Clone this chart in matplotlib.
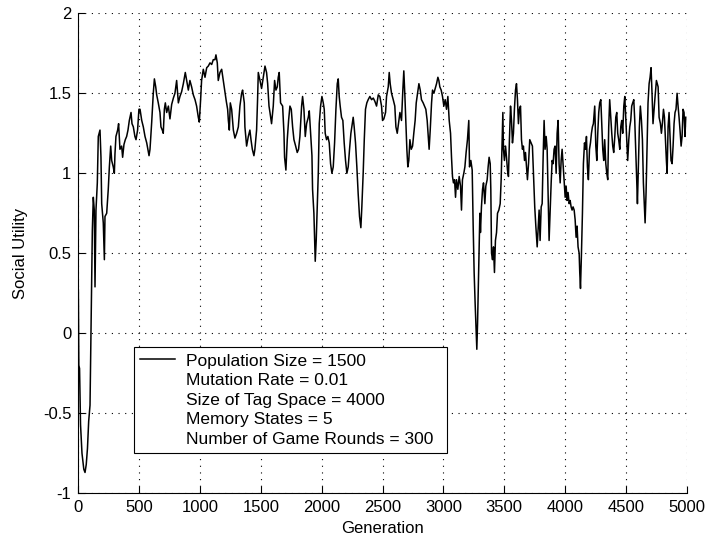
import matplotlib
matplotlib.use("Agg")
import matplotlib.pyplot as plt
from matplotlib.lines import Line2D

# social utility of the population, sampled along the run
generation = [
    0, 4, 10, 18, 30, 45, 55, 65, 75, 85,
    96, 104, 115, 123, 131, 137, 145, 156, 164, 178,
    186, 192, 205, 214, 219, 233, 246, 255, 266, 274,
    287, 296, 301, 309, 323, 331, 342, 356, 364, 375,
    386, 397, 408, 419, 433, 441, 452, 465, 474, 487,
    498,
    507, 521, 534, 548, 562, 581, 589, 603, 616, 625,
    636, 644, 657, 671, 679, 690, 698, 707, 715, 726,
    740, 753, 767, 781, 794, 808, 822, 835, 849, 863,
    879, 890, 904, 917, 931, 945, 959, 972, 986, 994,
    1005, 1013, 1027, 1041,
    1055, 1068, 1082, 1096, 1109, 1123, 1131, 1142, 1150, 1164,
    1178, 1191, 1205, 1216, 1227, 1233, 1241, 1249, 1260, 1274,
    1287, 1301, 1315, 1328, 1342, 1350, 1364, 1369, 1383, 1397,
    1410, 1419, 1430, 1443, 1451, 1465, 1473, 1479, 1493, 1506,
    1520, 1534, 1547, 1556, 1567,
    1575, 1588, 1602, 1613, 1624, 1635, 1643, 1651, 1662, 1679,
    1690, 1695, 1706, 1717, 1728, 1739, 1750, 1761, 1772, 1786,
    1799, 1810, 1821, 1835, 1843, 1854, 1865, 1876, 1890, 1898,
    1909, 1920, 1925, 1936, 1942, 1947, 1955, 1963, 1972, 1980,
    1991, 2002, 2013, 2021, 2029, 2040, 2051, 2062, 2073, 2084,
    2095, 2106,
    2117, 2128, 2136, 2144, 2152, 2163, 2174, 2185, 2196, 2207,
    2218, 2229, 2240, 2251, 2259, 2267, 2278, 2289, 2300, 2311,
    2322, 2330, 2341, 2350, 2360, 2371, 2382, 2396, 2410, 2424,
    2437, 2451, 2465, 2478, 2492, 2500, 2511, 2525, 2533, 2547,
    2555, 2563, 2574, 2588, 2601, 2610, 2621, 2634,
    2643, 2656, 2667, 2675, 2684, 2692, 2700, 2708, 2716, 2725,
    2736, 2747, 2757, 2768, 2777, 2788, 2799, 2810, 2820, 2834,
    2845, 2856, 2867, 2878, 2883, 2892, 2903, 2911, 2922, 2933,
    2944, 2955, 2963, 2971, 2982, 2993, 3004, 3015, 3026, 3037,
    3048, 3059, 3067, 3075, 3083, 3092, 3100, 3108, 3119, 3130,
    3141, 3149, 3157, 3168,
    3177, 3187, 3198, 3209, 3215, 3226, 3237, 3245, 3253, 3261,
    3270, 3275, 3281, 3286, 3292, 3300, 3305, 3313, 3322, 3330,
    3341, 3349, 3360, 3368, 3376, 3385, 3390, 3396, 3404, 3412,
    3420, 3428, 3437, 3445, 3456, 3467, 3475, 3483, 3489, 3494,
    3502, 3511, 3519, 3527, 3535, 3543, 3552, 3560, 3568, 3576,
    3584, 3593, 3601, 3609, 3617, 3625, 3634, 3642, 3650, 3658,
    3667, 3675, 3683, 3691, 3700,
    3710, 3721, 3732, 3743, 3751, 3760, 3771, 3779, 3787, 3795,
    3804, 3812, 3820, 3828, 3836, 3845, 3853, 3861, 3869, 3877,
    3886, 3894, 3902, 3910, 3918, 3927, 3935, 3943, 3951, 3960,
    3968, 3976, 3984, 3992, 4001, 4009, 4017, 4025, 4034, 4042,
    4050, 4058, 4066, 4075, 4083, 4091, 4099, 4107, 4116, 4121,
    4127, 4135, 4143, 4151, 4160, 4168, 4176, 4184, 4192, 4201,
    4209, 4217, 4225, 4233,
    4244, 4253, 4261, 4269, 4277, 4285, 4294, 4302, 4310, 4318,
    4326, 4335, 4343, 4351, 4359, 4367, 4376, 4384, 4392, 4400,
    4409, 4417, 4425, 4433, 4441, 4450, 4458, 4466, 4474, 4483,
    4491, 4499, 4507, 4515, 4524, 4532, 4540, 4548, 4556, 4565,
    4573, 4581, 4589, 4595, 4603, 4611, 4619, 4628, 4636, 4644,
    4652, 4658, 4666, 4674, 4682, 4691, 4699, 4707, 4715, 4723,
    4732,
    4740, 4751, 4765, 4773, 4784, 4792, 4800, 4809, 4817, 4825,
    4833, 4839, 4847, 4855, 4863, 4871, 4880, 4888, 4896, 4904,
    4912, 4921, 4929, 4937, 4945, 4954, 4962, 4970, 4978, 4986,
    4992,
]

utility = [
    0.27, -0.20, -0.22, -0.57, -0.75, -0.85, -0.87, -0.82, -0.72, -0.55,
    -0.45, 0.02, 0.64, 0.85, 0.77, 0.29, 0.77, 0.94, 1.23, 1.27,
    1.10, 0.81, 0.69, 0.46, 0.73, 0.75, 0.90, 1.04, 1.17, 1.08,
    1.04, 1.00, 1.12, 1.23, 1.27, 1.31, 1.15, 1.17, 1.10, 1.18,
    1.21, 1.23, 1.27, 1.33, 1.38, 1.31, 1.29, 1.23, 1.21, 1.27,
    1.40,
    1.40, 1.33, 1.29, 1.23, 1.19, 1.11, 1.15, 1.32, 1.50, 1.59,
    1.54, 1.49, 1.44, 1.38, 1.29, 1.27, 1.25, 1.40, 1.44, 1.38,
    1.42, 1.34, 1.43, 1.47, 1.50, 1.58, 1.44, 1.48, 1.51, 1.56,
    1.63, 1.58, 1.52, 1.58, 1.54, 1.49, 1.46, 1.42, 1.35, 1.32,
    1.46, 1.58, 1.65, 1.60,
    1.66, 1.67, 1.69, 1.68, 1.71, 1.71, 1.74, 1.69, 1.58, 1.63,
    1.65, 1.58, 1.50, 1.45, 1.40, 1.33, 1.27, 1.44, 1.40, 1.27,
    1.22, 1.25, 1.29, 1.42, 1.50, 1.52, 1.44, 1.29, 1.17, 1.23,
    1.27, 1.21, 1.15, 1.11, 1.15, 1.27, 1.46, 1.63, 1.58, 1.53,
    1.60, 1.67, 1.63, 1.56, 1.42,
    1.38, 1.31, 1.42, 1.58, 1.52, 1.54, 1.60, 1.63, 1.44, 1.42,
    1.25, 1.10, 1.02, 1.21, 1.33, 1.42, 1.40, 1.29, 1.21, 1.17,
    1.13, 1.15, 1.23, 1.42, 1.48, 1.40, 1.23, 1.31, 1.35, 1.39,
    1.25, 1.11, 0.90, 0.75, 0.58, 0.45, 0.58, 0.77, 1.00, 1.31,
    1.42, 1.48, 1.44, 1.40, 1.25, 1.21, 1.23, 1.19, 1.06, 1.00,
    1.04, 1.19,
    1.40, 1.56, 1.59, 1.48, 1.42, 1.35, 1.33, 1.19, 1.08, 1.00,
    1.04, 1.15, 1.25, 1.31, 1.35, 1.29, 1.19, 1.04, 0.87, 0.73,
    0.66, 0.79, 1.00, 1.21, 1.40, 1.44, 1.46, 1.48, 1.46, 1.47,
    1.45, 1.42, 1.49, 1.48, 1.42, 1.33, 1.34, 1.38, 1.48, 1.54,
    1.63, 1.56, 1.50, 1.46, 1.42, 1.29, 1.25, 1.33,
    1.38, 1.33, 1.52, 1.64, 1.48, 1.31, 1.15, 1.04, 1.08, 1.21,
    1.15, 1.17, 1.25, 1.33, 1.44, 1.50, 1.56, 1.52, 1.46, 1.44,
    1.42, 1.40, 1.33, 1.21, 1.15, 1.27, 1.44, 1.52, 1.50, 1.53,
    1.56, 1.60, 1.58, 1.54, 1.52, 1.48, 1.42, 1.46, 1.40, 1.48,
    1.33, 1.25, 1.10, 0.98, 0.94, 0.96, 0.85, 0.96, 0.90, 0.98,
    0.92, 0.77, 0.96, 1.00,
    1.04, 1.13, 1.21, 1.33, 1.04, 1.08, 1.02, 0.67, 0.38, 0.19,
    0.00, -0.10, 0.06, 0.25, 0.50, 0.75, 0.63, 0.79, 0.90, 0.94,
    0.81, 0.92, 0.96, 1.04, 1.10, 1.06, 0.90, 0.50, 0.46, 0.54,
    0.38, 0.58, 0.63, 0.75, 0.77, 0.81, 0.96, 1.21, 1.38, 1.15,
    1.08, 1.17, 1.10, 1.02, 0.98, 1.21, 1.42, 1.33, 1.19, 1.25,
    1.40, 1.52, 1.56, 1.46, 1.31, 1.40, 1.42, 1.21, 1.15, 1.17,
    1.08, 1.13, 1.04, 0.96, 1.06,
    1.21, 1.19, 1.17, 0.96, 0.79, 0.67, 0.54, 0.65, 0.77, 0.58,
    0.79, 0.81, 1.10, 1.33, 1.15, 1.23, 1.15, 0.85, 0.58, 0.75,
    0.94, 1.08, 1.06, 1.15, 1.17, 1.00, 1.25, 1.33, 1.06, 0.94,
    1.08, 1.15, 1.06, 0.96, 0.85, 0.92, 0.83, 0.88, 0.81, 0.83,
    0.79, 0.77, 0.79, 0.77, 0.71, 0.60, 0.67, 0.54, 0.50, 0.38,
    0.28, 0.50, 0.75, 1.06, 1.19, 1.15, 1.23, 1.04, 0.96, 1.15,
    1.19, 1.25, 1.29, 1.31,
    1.42, 1.17, 1.08, 1.25, 1.38, 1.44, 1.46, 1.31, 1.15, 1.08,
    1.21, 1.06, 1.00, 0.96, 1.29, 1.46, 1.35, 1.25, 1.17, 1.13,
    1.23, 1.35, 1.38, 1.25, 1.21, 1.15, 1.29, 1.33, 1.25, 1.42,
    1.48, 1.35, 1.21, 1.08, 1.21, 1.29, 1.33, 1.42, 1.44, 1.46,
    1.33, 1.15, 0.96, 0.81, 1.04, 1.29, 1.42, 1.33, 1.21, 0.94,
    0.79, 0.69, 0.88, 1.15, 1.44, 1.56, 1.60, 1.66, 1.50, 1.31,
    1.40,
    1.48, 1.58, 1.54, 1.35, 1.31, 1.25, 1.31, 1.40, 1.35, 1.21,
    1.08, 1.00, 1.29, 1.38, 1.23, 1.08, 1.06, 1.17, 1.31, 1.38,
    1.40, 1.50, 1.42, 1.35, 1.27, 1.17, 1.23, 1.40, 1.38, 1.23,
    1.35,
]

legend_lines = [
    "Population Size = 1500",
    "Mutation Rate = 0.01",
    "Size of Tag Space = 4000",
    "Memory States = 5",
    "Number of Game Rounds = 300",
]

xticks = [0, 500, 1000, 1500, 2000, 2500, 3000, 3500, 4000, 4500, 5000]
yticks = [-1, -0.5, 0, 0.5, 1, 1.5, 2]
ytick_labels = ["-1", "-0.5", "0", "0.5", "1", "1.5", "2"]

plt.rcParams['font.family'] = ['Liberation Sans', 'DejaVu Sans']

fig = plt.figure(figsize=(7.07, 5.42), dpi=100)
ax = fig.add_axes([0.1108, 0.0899, 0.8605, 0.8856])

line, = ax.plot(generation, utility, color="black", linewidth=1.1)

ax.set_xlim(0, 5000)
ax.set_ylim(-1, 2)
ax.set_xticks(xticks)
ax.set_xticklabels([str(t) for t in xticks])
ax.set_yticks(yticks)
ax.set_yticklabels(ytick_labels)

ax.grid(True, color="black", linestyle=(0, (1, 5)), linewidth=0.8)
for side in ["top", "right"]:
    ax.spines[side].set_visible(False)
for side in ["left", "bottom"]:
    ax.spines[side].set_linewidth(0.8)
ax.tick_params(direction="in", length=5, width=0.8, labelsize=12, pad=5)

ax.set_xlabel("Generation", fontsize=12, labelpad=4)
ax.set_ylabel("Social Utility", fontsize=12, labelpad=11)

# first row carries the line sample, the rest are plain text rows
blank = [Line2D([], [], linestyle="none") for _ in range(4)]
leg = ax.legend([line] + blank, legend_lines,
                loc="upper left", bbox_to_anchor=(0.092, 0.0845, 0.5145, 0.2196),
                mode="expand", borderaxespad=0, fontsize=12.5,
                handlelength=2.0, handletextpad=0.6, labelspacing=0.25,
                borderpad=0.35, fancybox=False, framealpha=1,
                edgecolor="black")
leg.get_frame().set_linewidth(0.8)

fig.savefig("out.png", dpi=100)
